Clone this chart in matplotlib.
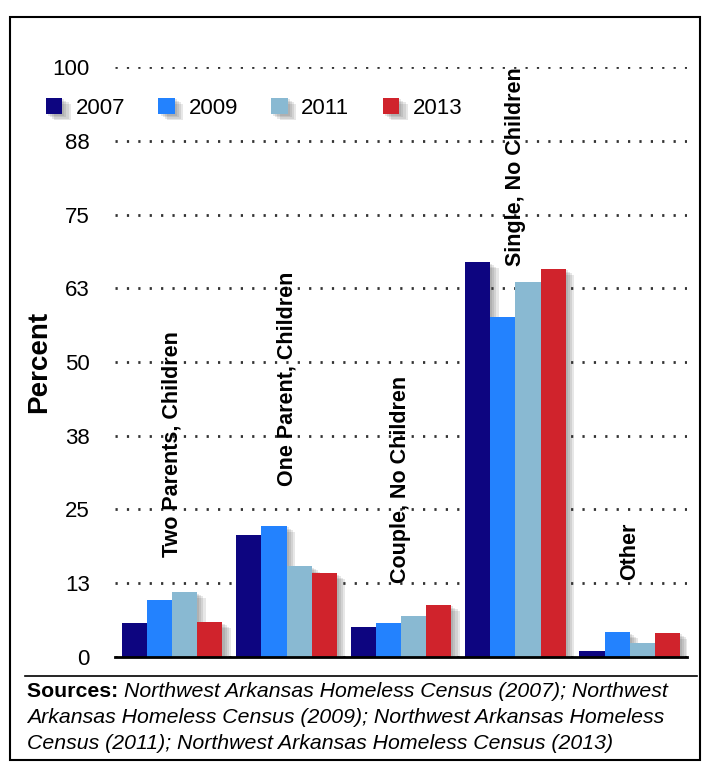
import matplotlib.pyplot as plt
import matplotlib.patheffects as pe
from matplotlib.patches import Rectangle
from matplotlib.lines import Line2D
import numpy as np

plt.rcParams['font.family'] = ['Liberation Sans', 'DejaVu Sans']

# data
categories = ['Two Parents, Children', 'One Parent, Children', 'Couple, No Children',
              'Single, No Children', 'Other']
years = ['2007', '2009', '2011', '2013']
v2007 = [5.8, 20.7, 5.1, 66.9, 1.0]
v2009 = [9.6, 22.2, 5.8, 57.6, 4.2]
v2011 = [11.0, 15.4, 6.9, 63.6, 2.4]
v2013 = [5.9, 14.2, 8.8, 65.8, 4.1]
colors = ['#0d0580', '#2382fe', '#89b9d2', '#d0232c']
yticks = [0, 12.5, 25, 37.5, 50, 62.5, 75, 87.5, 100]
ytick_labels = ['0', '13', '25', '38', '50', '63', '75', '88', '100']

fig = plt.figure(figsize=(7.09, 7.63), dpi=100)
ax = fig.add_axes([0.162, 0.139, 0.807, 0.773])

x = np.arange(len(categories))
w = 0.22
# soft drop shadow, built from a few faint offset copies
shadow = [pe.SimplePatchShadow(offset=(o, -o * 0.7), shadow_rgbFace='#404040', alpha=0.12)
          for o in (1.5, 3, 4.5, 6)] + [pe.Normal()]
for i, vals in enumerate([v2007, v2009, v2011, v2013]):
    bars = ax.bar(x + (i - 1.5) * w, vals, w, color=colors[i], label=years[i], zorder=3)
    for b in bars:
        b.set_path_effects(shadow)

# category labels (vertical, above the bars)
label_y = [17, 29, 12.5, 66.2, 13]
for xi, name, ly in zip(x, categories, label_y):
    ax.text(xi, ly, name, rotation=90, ha='center', va='bottom', fontsize=15.5,
            fontweight='bold', clip_on=False, zorder=5)

ax.set_xlim(-0.5, 4.5)
ax.set_ylim(0, 100)
ax.set_yticks(yticks)
ax.set_yticklabels(ytick_labels, fontsize=16)
ax.set_xticks([])
ax.tick_params(axis='y', length=0, pad=18)
ax.grid(axis='y', linestyle=(0, (0.8, 3.3)), color='#333333', linewidth=2, zorder=0)
for s in ['top', 'right', 'left']:
    ax.spines[s].set_visible(False)
ax.spines['bottom'].set_linewidth(2)
ax.spines['bottom'].set_zorder(4)
ax.set_ylabel('Percent', fontsize=20, fontweight='bold')
ax.yaxis.set_label_coords(-0.11, 0.5)

ax.legend(loc='upper left', bbox_to_anchor=(-0.121, 0.948), ncol=4, frameon=False,
          fontsize=16, handlelength=0.75, handleheight=0.75, columnspacing=1.5,
          handletextpad=0.6, borderpad=0, borderaxespad=0)

# border and sources block
fig.patches.append(Rectangle((0.014, 0.004), 0.973, 0.974, transform=fig.transFigure,
                             fill=False, edgecolor='black', linewidth=1.5))
fig.lines.append(Line2D([0.035, 0.983], [0.114, 0.114], transform=fig.transFigure,
                        color='black', linewidth=1.2))
fs = 15.3
t = fig.text(0.038, 0.094, 'Sources: ', fontsize=fs, fontweight='bold', va='center')
r = fig.canvas.get_renderer()
bb = t.get_window_extent(renderer=r)
fig.text(bb.x1 / fig.bbox.width, 0.094, 'Northwest Arkansas Homeless Census (2007); Northwest',
         fontsize=fs, style='italic', va='center')
fig.text(0.038, 0.059, 'Arkansas Homeless Census (2009); Northwest Arkansas Homeless',
         fontsize=fs, style='italic', va='center')
fig.text(0.038, 0.025, 'Census (2011); Northwest Arkansas Homeless Census (2013)',
         fontsize=fs, style='italic', va='center')

fig.savefig('out.png', dpi=100)
